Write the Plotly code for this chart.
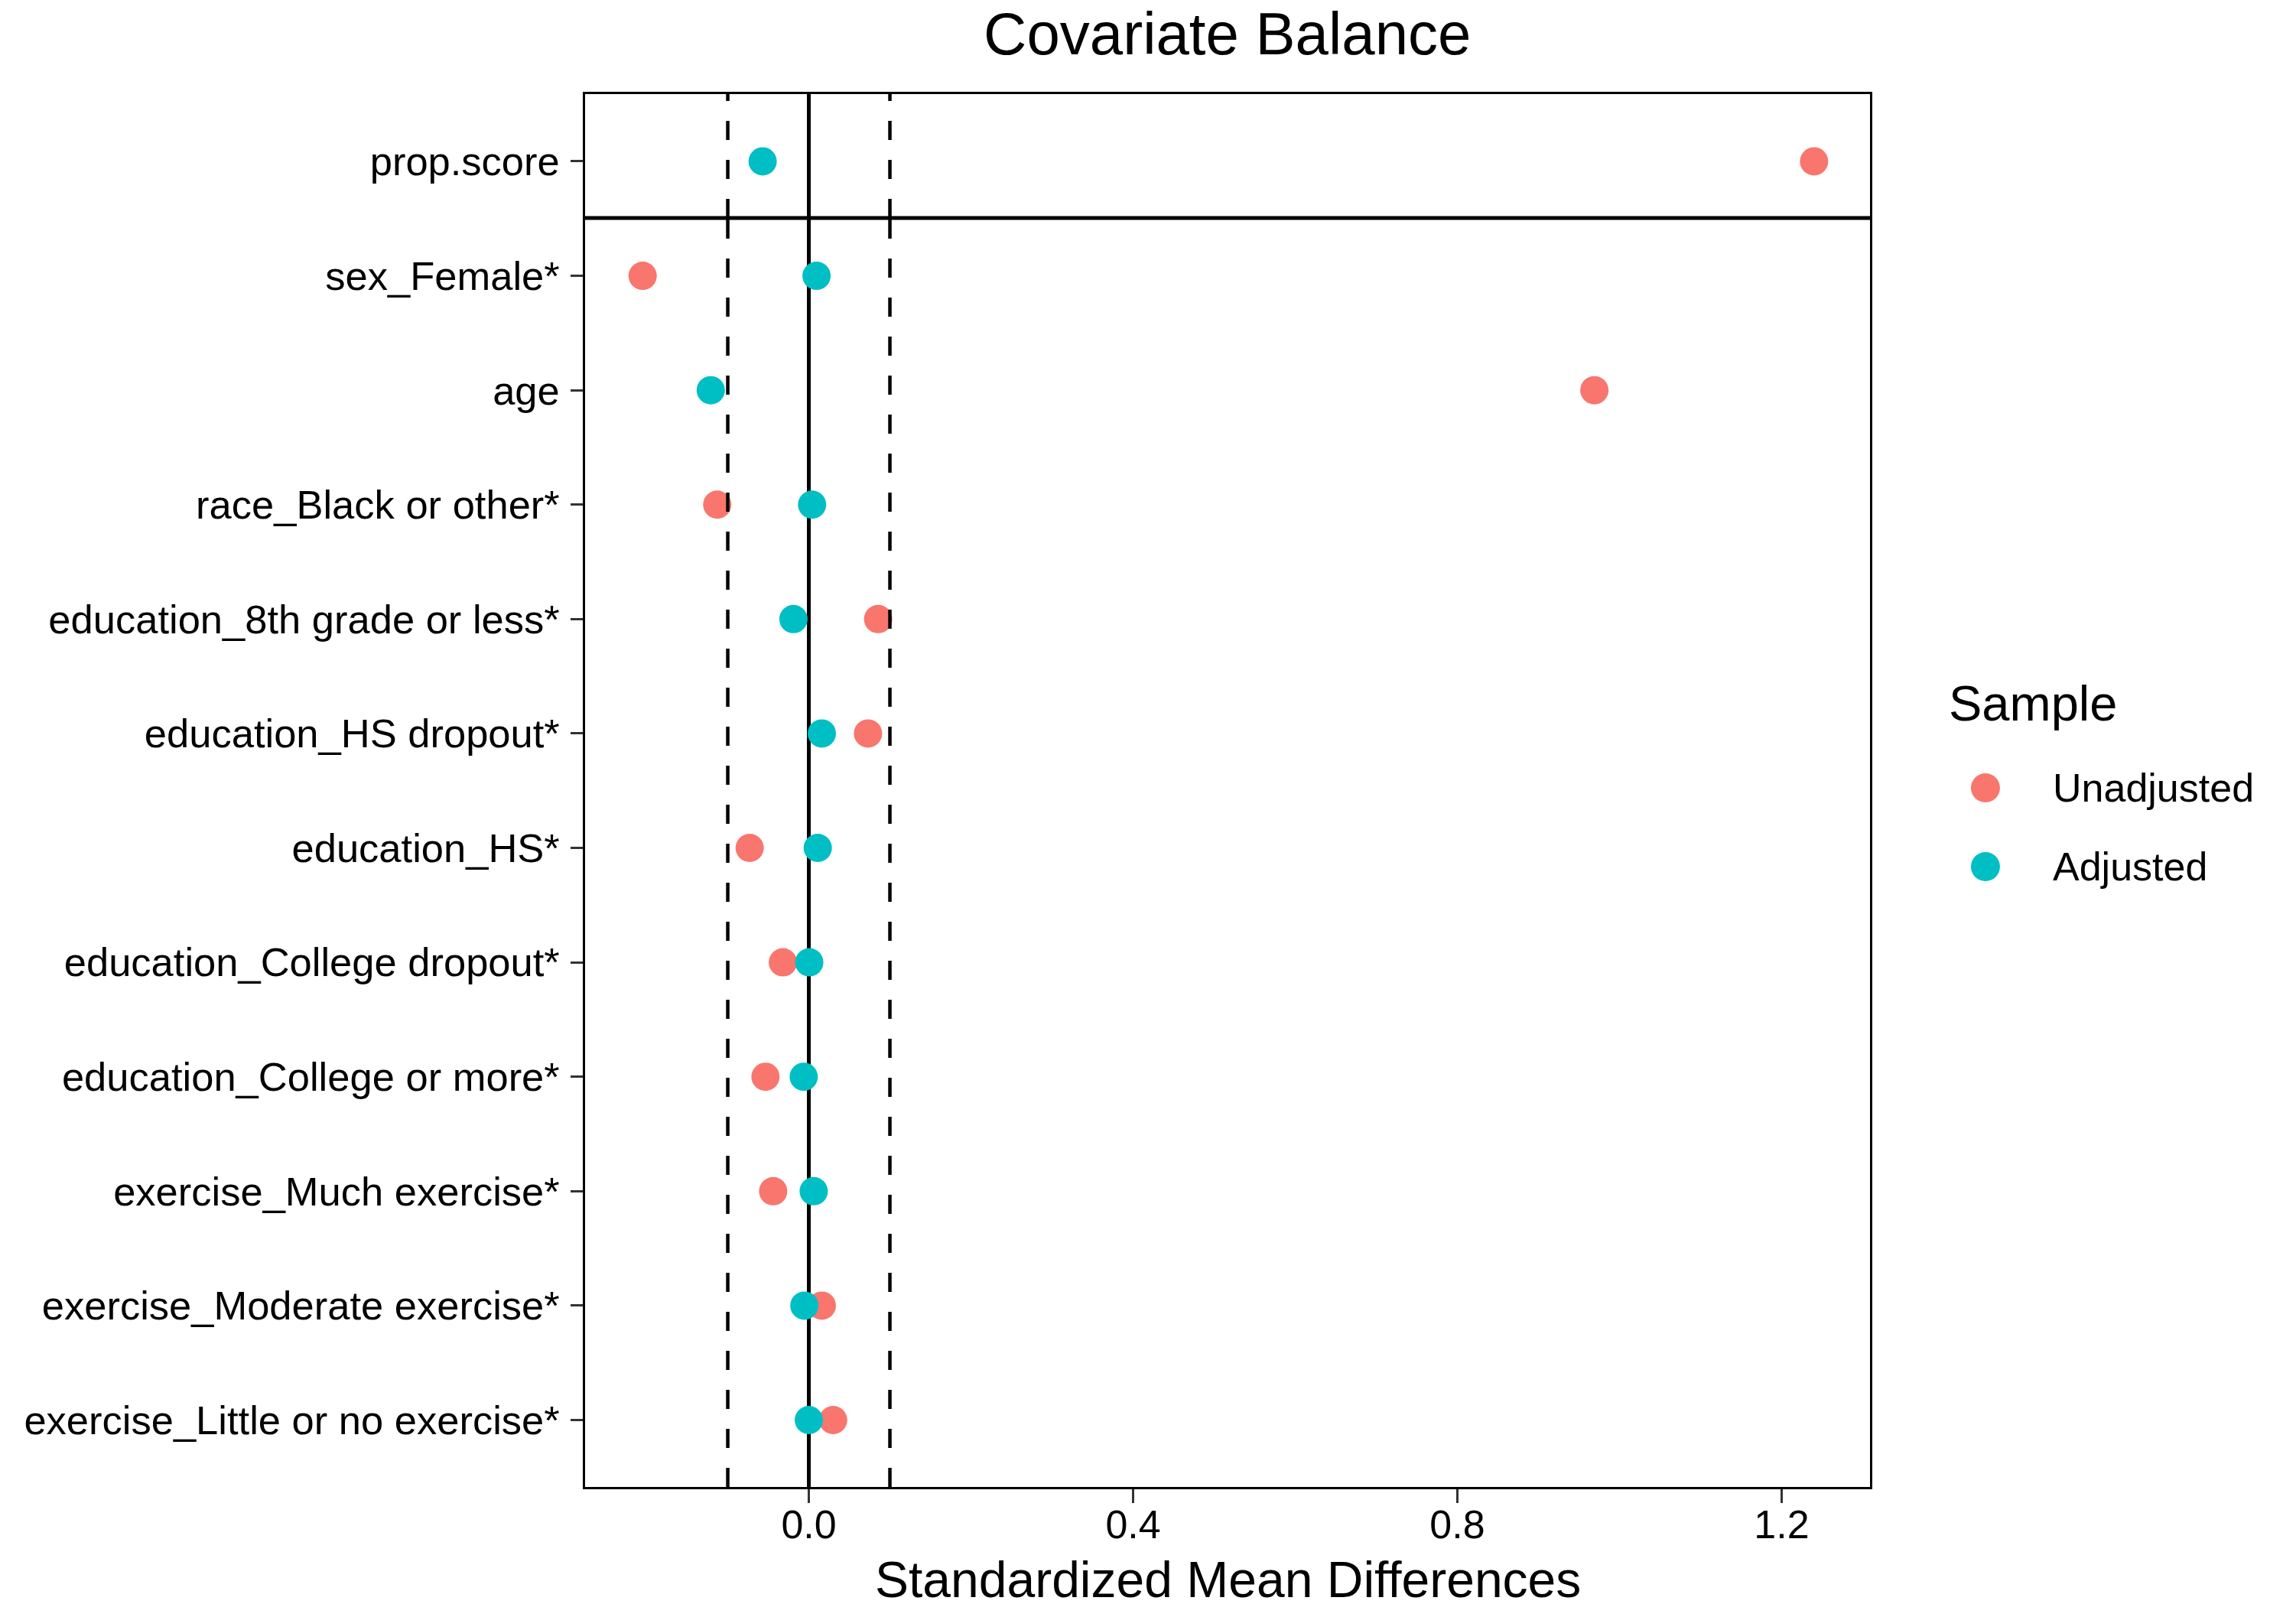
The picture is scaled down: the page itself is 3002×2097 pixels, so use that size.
import plotly.graph_objects as go

# ---------------- data ----------------
variables = [
    "prop.score",
    "sex_Female*",
    "age",
    "race_Black or other*",
    "education_8th grade or less*",
    "education_HS dropout*",
    "education_HS*",
    "education_College dropout*",
    "education_College or more*",
    "exercise_Much exercise*",
    "exercise_Moderate exercise*",
    "exercise_Little or no exercise*",
]
unadjusted = [1.240, -0.205, 0.969, -0.113, 0.0855, 0.073, -0.073, -0.032, -0.0535, -0.044, 0.016, 0.030]
adjusted = [-0.057, 0.0095, -0.121, 0.004, -0.019, 0.016, 0.011, 0.0005, -0.0063, 0.006, -0.0055, 0.0]
series_names = ["Unadjusted", "Adjusted"]
series_colors = ["#F8766D", "#00BFC4"]
thresholds = [-0.1, 0.1]
x_ticks = [0.0, 0.4, 0.8, 1.2]

# ---------------- geometry (pixels) ----------------
W, H = 3002, 2097
L, R, T, B = 764.5, 2445, 123, 1944
pw, ph = R - L, B - T
FONT = "Liberation Sans, Arial, Helvetica, sans-serif"


def px_x(X):
    return (X - L) / pw


def px_y(Y):
    return (B - Y) / ph


divider_y = px_y(285)

fig = go.Figure()
for name, vals, col in zip(series_names, [unadjusted, adjusted], series_colors):
    fig.add_trace(go.Scatter(
        x=vals, y=variables, mode="markers", name=name,
        marker=dict(color=col, size=37, line=dict(width=0)),
        showlegend=False, cliponaxis=False,
    ))

shapes = []
# zero line (below points)
shapes.append(dict(type="line", xref="x", yref="paper", x0=0, x1=0, y0=0, y1=1,
                   line=dict(color="black", width=5), layer="below"))
# threshold dashed lines (above points), per panel, drawn bottom-up
for t in thresholds:
    for y0, y1 in [(0, divider_y), (divider_y, 1)]:
        shapes.append(dict(type="line", xref="x", yref="paper", x0=t, x1=t, y0=y0, y1=y1,
                           line=dict(color="black", width=4.5, dash="25px,26px"), layer="above"))
# panel divider
shapes.append(dict(type="line", xref="paper", yref="paper", x0=0, x1=1, y0=divider_y, y1=divider_y,
                   line=dict(color="black", width=5), layer="above"))

# custom legend
leg_rx = 19 / pw
leg_ry = 19 / ph
annotations = []
annotations.append(dict(text="Sample", xref="paper", yref="paper", x=px_x(2546), y=px_y(919),
                        xanchor="left", yanchor="middle", showarrow=False,
                        font=dict(size=65, color="black", family=FONT)))
for i, (name, col) in enumerate(zip(series_names, series_colors)):
    cy = px_y(1030 + 103 * i)
    cx = px_x(2596)
    shapes.append(dict(type="circle", xref="paper", yref="paper",
                       x0=cx - leg_rx, x1=cx + leg_rx, y0=cy - leg_ry, y1=cy + leg_ry,
                       fillcolor=col, line=dict(width=0)))
    annotations.append(dict(text=name, xref="paper", yref="paper", x=px_x(2682), y=cy,
                            xanchor="left", yanchor="middle", showarrow=False,
                            font=dict(size=52, color="black", family=FONT)))

# axis title
annotations.append(dict(text="Standardized Mean Differences", xref="paper", yref="paper",
                        x=0.5, y=px_y(2104), xanchor="center", yanchor="bottom", showarrow=False,
                        font=dict(size=66, color="black", family=FONT)))

fig.update_layout(
    width=W, height=H,
    margin=dict(l=L, r=W - R, t=T, b=H - B, pad=0),
    paper_bgcolor="white", plot_bgcolor="white",
    title=dict(text="Covariate Balance", x=(L + pw / 2) / W, xref="container",
               xanchor="center", y=1 - 44 / H, yref="container", yanchor="middle",
               font=dict(size=78, color="black", family=FONT)),
    font=dict(family=FONT, color="black"),
    shapes=shapes,
    annotations=annotations,
    showlegend=False,
)
fig.update_xaxes(
    range=[-0.276, 1.309], tickvals=x_ticks, ticktext=[f"{v:.1f}" for v in x_ticks],
    showgrid=False, zeroline=False,
    showline=True, mirror=True, linecolor="black", linewidth=2.5,
    ticks="outside", ticklen=18, tickwidth=2.5, tickcolor="#333333",
    ticklabelstandoff=-16,
    tickfont=dict(size=52, color="black", family=FONT),
)
fig.update_yaxes(
    type="category", categoryorder="array", categoryarray=variables,
    range=[11.585, -0.588],
    showgrid=False, zeroline=False,
    showline=True, mirror=True, linecolor="black", linewidth=2.5,
    ticks="outside", ticklen=16, tickwidth=2.5, tickcolor="#333333",
    ticklabelstandoff=4,
    tickfont=dict(size=52.5, color="black", family=FONT),
)

fig.write_html("out.html")
